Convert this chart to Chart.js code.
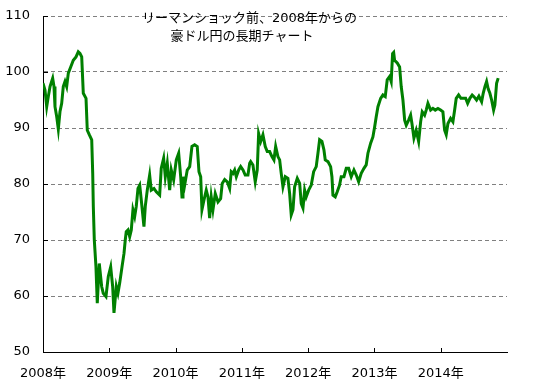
<!DOCTYPE html>
<html>
<head>
<meta charset="utf-8">
<script src="https://cdn.jsdelivr.net/npm/chart.js@4"></script>
<style>
  body { margin: 0; background: #fff; }
  #wrap { position: relative; width: 538px; height: 390px; }
  #title {
    position: absolute; left: 142px; top: 9px; width: 200px;
    text-align: center; font: 13px 'DejaVu Sans', 'Noto Sans CJK JP', sans-serif;
    line-height: 18px; color: #000; white-space: nowrap;
  }
</style>
</head>
<body>
<div id="wrap">
  <canvas id="chart" width="538" height="390"></canvas>
  <div id="title">リーマンショック前、2008年からの<br>豪ドル円の長期チャート</div>
</div>
<script>
// ===== DATA (decimal year / AUD-JPY rate) =====
const years = [
  2008.00, 2008.03, 2008.056, 2008.08, 2008.106, 2008.146, 2008.166, 2008.181, 2008.207, 2008.231,
  2008.256, 2008.282, 2008.306, 2008.332, 2008.357, 2008.382, 2008.418, 2008.457, 2008.498, 2008.532,
  2008.558, 2008.584, 2008.608, 2008.649, 2008.668, 2008.698, 2008.735, 2008.750, 2008.759, 2008.774,
  2008.799, 2008.819, 2008.849, 2008.885, 2008.909, 2008.950, 2008.985, 2009.021, 2009.051, 2009.071,
  2009.106, 2009.131, 2009.157, 2009.192, 2009.222, 2009.241, 2009.256, 2009.282, 2009.308, 2009.332,
  2009.357, 2009.383, 2009.407, 2009.433, 2009.459, 2009.483, 2009.523, 2009.543, 2009.573, 2009.609,
  2009.633, 2009.674, 2009.709, 2009.760, 2009.784, 2009.820, 2009.845, 2009.875, 2009.911, 2009.935,
  2009.971, 2010.011, 2010.047, 2010.077, 2010.097, 2010.112, 2010.137, 2010.176, 2010.213, 2010.247,
  2010.288, 2010.327, 2010.353, 2010.379, 2010.398, 2010.428, 2010.463, 2010.489, 2010.514, 2010.538,
  2010.564, 2010.599, 2010.640, 2010.680, 2010.704, 2010.741, 2010.780, 2010.816, 2010.840, 2010.866,
  2010.891, 2010.916, 2010.952, 2010.982, 2011.017, 2011.051, 2011.092, 2011.118, 2011.133, 2011.167,
  2011.202, 2011.232, 2011.253, 2011.284, 2011.318, 2011.353, 2011.383, 2011.419, 2011.454, 2011.484,
  2011.510, 2011.544, 2011.570, 2011.594, 2011.620, 2011.655, 2011.695, 2011.721, 2011.745, 2011.771,
  2011.796, 2011.836, 2011.872, 2011.896, 2011.922, 2011.947, 2011.971, 2012.008, 2012.047, 2012.083,
  2012.122, 2012.148, 2012.173, 2012.208, 2012.238, 2012.258, 2012.299, 2012.339, 2012.359, 2012.374,
  2012.409, 2012.439, 2012.474, 2012.499, 2012.540, 2012.575, 2012.611, 2012.650, 2012.691, 2012.726,
  2012.762, 2012.801, 2012.842, 2012.876, 2012.902, 2012.943, 2012.977, 2013.003, 2013.027, 2013.053,
  2013.094, 2013.128, 2013.163, 2013.193, 2013.229, 2013.253, 2013.274, 2013.290, 2013.304, 2013.344,
  2013.380, 2013.404, 2013.430, 2013.456, 2013.480, 2013.516, 2013.546, 2013.566, 2013.596, 2013.630,
  2013.667, 2013.697, 2013.721, 2013.757, 2013.781, 2013.807, 2013.848, 2013.882, 2013.917, 2013.958,
  2013.998, 2014.033, 2014.059, 2014.083, 2014.109, 2014.149, 2014.184, 2014.210, 2014.234, 2014.270,
  2014.305, 2014.339, 2014.376, 2014.406, 2014.440, 2014.475, 2014.501, 2014.541, 2014.576, 2014.617,
  2014.641, 2014.667, 2014.692, 2014.716, 2014.742, 2014.768, 2014.798, 2014.817, 2014.843, 2014.867
];
const rates = [
  98.0, 96.8, 93.8, 95.6, 97.4, 98.9, 97.4, 93.8, 92.0, 89.8,
  92.9, 94.4, 97.4, 98.3, 97.4, 99.8, 100.9, 102.1, 102.7, 103.6,
  103.3, 102.7, 96.2, 95.3, 89.6, 88.8, 87.9, 81.9, 76.0, 70.0,
  65.2, 58.7, 65.8, 61.7, 60.5, 59.9, 63.5, 65.2, 61.7, 57.0,
  61.7, 60.5, 62.3, 65.2, 67.6, 70.0, 71.5, 71.8, 70.6, 71.8,
  75.4, 74.2, 76.0, 79.2, 79.8, 77.1, 72.4, 76.0, 78.9, 81.6,
  78.9, 79.2, 78.6, 78.0, 82.8, 84.6, 81.3, 83.7, 78.9, 82.5,
  80.7, 84.3, 85.5, 81.3, 77.7, 81.3, 79.8, 82.5, 83.1, 86.7,
  87.0, 86.7, 82.2, 81.3, 75.4, 77.1, 78.9, 77.7, 73.9, 77.7,
  75.4, 78.3, 76.8, 77.4, 80.1, 80.8, 80.4, 79.2, 82.2, 81.9,
  82.5, 81.3, 82.5, 83.1, 82.5, 81.6, 81.6, 83.7, 84.0, 83.4,
  80.4, 82.5, 89.0, 87.6, 88.8, 86.7, 85.8, 85.8, 84.9, 84.3,
  86.7, 84.9, 84.3, 81.9, 79.5, 81.3, 81.0, 78.3, 74.5, 75.4,
  79.5, 81.0, 80.1, 76.5, 75.7, 78.9, 77.7, 78.9, 79.8, 82.2,
  83.1, 85.5, 87.9, 87.6, 86.1, 84.3, 84.0, 83.1, 81.3, 78.0,
  77.7, 78.6, 79.8, 81.3, 81.3, 82.8, 82.8, 81.3, 82.5, 81.6,
  80.4, 81.9, 82.8, 83.4, 85.5, 87.3, 88.4, 90.2, 92.0, 93.8,
  95.3, 95.9, 95.6, 98.6, 99.2, 98.3, 103.3, 103.5, 102.1, 101.6,
  100.9, 97.4, 95.0, 91.4, 90.5, 91.4, 92.3, 90.8, 88.2, 89.6,
  87.6, 91.1, 92.9, 92.3, 93.2, 94.4, 93.2, 93.5, 93.2, 93.5,
  93.2, 92.9, 89.6, 88.8, 90.8, 91.7, 91.1, 93.2, 95.3, 95.9,
  95.3, 95.3, 95.3, 94.4, 95.3, 95.9, 95.6, 95.0, 95.7, 94.7,
  96.2, 97.4, 98.3, 97.0, 96.2, 95.0, 93.2, 94.1, 98.0, 98.9
];
const yearTicks = [2008, 2009, 2010, 2011, 2012, 2013, 2014];
const rateTicks = [50, 60, 70, 80, 90, 100, 110];

Chart.defaults.font.family = "'DejaVu Sans', 'Noto Sans CJK JP', sans-serif";
Chart.defaults.font.size = 13;
Chart.defaults.color = "#000";

// small inward tick marks on both axes
const innerTicks = {
  id: "innerTicks",
  afterDraw(chart) {
    const { ctx, chartArea: a, scales: { x, y } } = chart;
    ctx.save();
    ctx.strokeStyle = "#000";
    ctx.lineWidth = 1;
    ctx.beginPath();
    yearTicks.slice(1).forEach(v => {
      const px = Math.round(x.getPixelForValue(v)) + 0.5;
      ctx.moveTo(px, a.bottom);
      ctx.lineTo(px, a.bottom - 4);
    });
    rateTicks.slice(1).forEach(v => {
      const py = Math.round(y.getPixelForValue(v)) + 0.5;
      ctx.moveTo(a.left, py);
      ctx.lineTo(a.left + 5, py);
    });
    ctx.stroke();
    ctx.restore();
  }
};

new Chart(document.getElementById("chart"), {
  type: "line",
  data: {
    datasets: [{
      data: years.map((yr, i) => ({ x: yr, y: rates[i] })),
      borderColor: "#008000",
      borderWidth: 3,
      pointRadius: 0,
      tension: 0,
      fill: false
    }]
  },
  options: {
    responsive: false,
    animation: false,
    layout: { padding: { top: 16, right: 31, left: 0, bottom: 0 } },
    plugins: { legend: { display: false }, tooltip: { enabled: false } },
    scales: {
      x: {
        type: "linear",
        min: 2008,
        max: 2015,
        afterBuildTicks: s => { s.ticks = yearTicks.map(v => ({ value: v })); },
        afterFit: s => { s.height = 38; s.paddingLeft = 0; s.paddingRight = 0; },
        grid: { display: false, drawTicks: false },
        border: { display: true, color: "#000", width: 1 },
        ticks: { padding: 14, maxRotation: 0, callback: v => v + "年" }
      },
      y: {
        min: 50,
        max: 110,
        afterBuildTicks: s => { s.ticks = rateTicks.map(v => ({ value: v })); },
        afterFit: s => { s.width = 43; s.paddingTop = 0; s.paddingBottom = 0; },
        grid: {
          drawTicks: false,
          color: c => c.tick && c.tick.value === 50 ? "rgba(0,0,0,0)" : "#808080"
        },
        border: { display: true, color: "#000", width: 1, dash: [4, 3] },
        ticks: { padding: 13 }
      }
    }
  },
  plugins: [innerTicks]
});
</script>
</body>
</html>
